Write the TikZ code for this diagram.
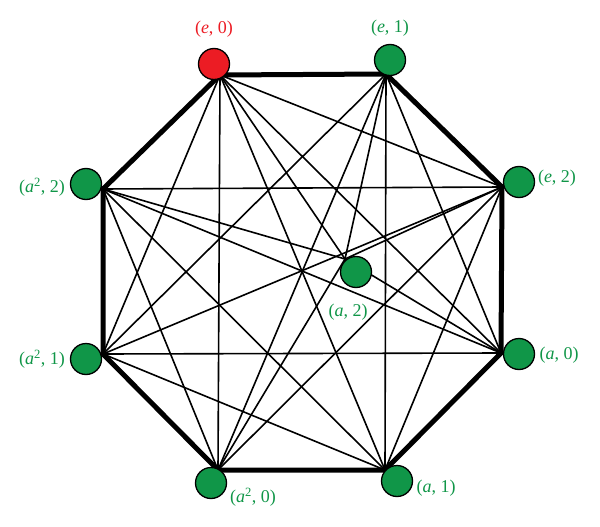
\documentclass[tikz,border=0pt]{standalone}
\usepackage{fontspec}
\setmainfont{Liberation Serif}
\definecolor{vgreen}{RGB}{16,150,72}
\definecolor{vred}{RGB}{236,28,36}
\begin{document}
\begin{tikzpicture}[x=1pt,y=-1pt,
  thin edge/.style={line width=1.6pt,black},
  thick edge/.style={line width=5pt,black,line join=miter},
  vtx/.style={circle,draw=black,line width=1.3pt,minimum size=31pt,inner sep=0pt},
  gv/.style={vtx,fill=vgreen},
  rv/.style={vtx,fill=vred},
  glab/.style={text=vgreen,font=\fontsize{18}{20}\selectfont,inner sep=0pt},
  rlab/.style={text=vred,font=\fontsize{18}{20}\selectfont,inner sep=0pt}]
\useasboundingbox (0,0) rectangle (600,527);
% line end points
\coordinate (vA) at (220,75);
\coordinate (vB) at (386,74);
\coordinate (vC) at (502,187);
\coordinate (vD) at (501,353);
\coordinate (vE) at (385,470);
\coordinate (vF) at (218,470);
\coordinate (vG) at (103,354);
\coordinate (vH) at (103,189);
\coordinate (vI) at (345,259);
% thin edges
\foreach \u/\v in {A/C,A/D,A/E,A/F,A/G,A/I,
                   B/D,B/E,B/F,B/G,B/I,
                   C/E,C/F,C/G,C/H,C/I,
                   D/G,D/H,D/I,
                   E/G,E/H,
                   F/H,F/I,
                   H/I}
  \draw[thin edge] (v\u) -- (v\v);
% thick cycle
\draw[thick edge] (vA) -- (vB) -- (vC) -- (vD) -- (vE) -- (vF) -- (vG) -- (vH) -- cycle;
% vertices
\node[rv] (cA) at (214,64) {};
\node[gv] (cB) at (390,60) {};
\node[gv] (cC) at (519,182) {};
\node[gv] (cD) at (519,354) {};
\node[gv] (cE) at (397,481) {};
\node[gv] (cF) at (211,483) {};
\node[gv] (cG) at (86,359) {};
\node[gv] (cH) at (86,184) {};
\node[gv] (cI) at (356,272) {};
% labels
\node[rlab] (lA) at (214,29) {(\textit{e}, 0)};
\node[glab] (lB) at (390,28) {(\textit{e}, 1)};
\node[glab] (lC) at (557,178) {(\textit{e}, 2)};
\node[glab] (lD) at (559,355) {(\textit{a}, 0)};
\node[glab] (lE) at (436,488) {(\textit{a}, 1)};
\node[glab] (lI) at (348,312) {(\textit{a}, 2)};
\node[glab] (lF) at (253,497) {(\textit{a}\textsuperscript{2}, 0)};
\node[glab] (lG) at (42,359) {(\textit{a}\textsuperscript{2}, 1)};
\node[glab] (lH) at (42,187) {(\textit{a}\textsuperscript{2}, 2)};
\end{tikzpicture}
\end{document}
